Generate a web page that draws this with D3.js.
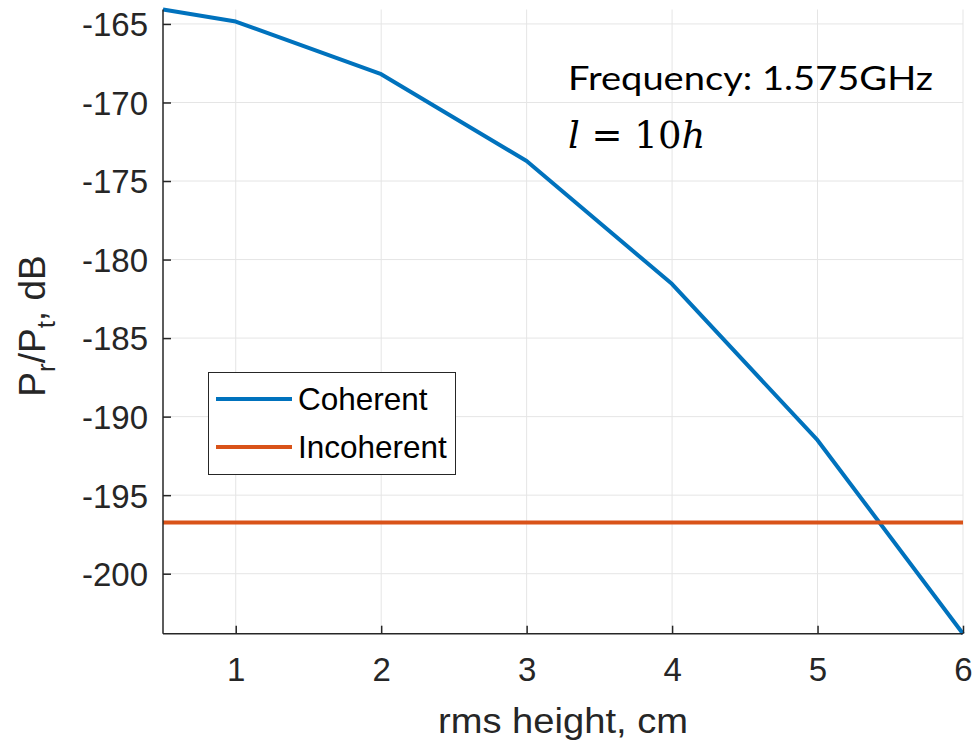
<!DOCTYPE html>
<html><head><meta charset="utf-8">
<script src="https://cdn.jsdelivr.net/npm/d3@7"></script>
<style>body{margin:0;background:#fff}svg{display:block}</style>
</head><body><svg id="c" width="980" height="740"></svg>
<script>
const rmsHeight = [0.5, 1, 2, 3, 4, 5, 6];
const coherent = [-164.08, -164.85, -168.2, -173.73, -181.56, -191.5, -203.82];
const incoherent = [-196.74, -196.74, -196.74, -196.74, -196.74, -196.74, -196.74];
const xTicks = [1, 2, 3, 4, 5, 6];
const yTicks = [-165, -170, -175, -180, -185, -190, -195, -200];
const seriesNames = ["Coherent", "Incoherent"];
const seriesColors = ["#0072BD", "#D95319"];

const svg = d3.select("#c");
const L = 163, R = 963, T = 9.5, B = 633.7;
const x = d3.scaleLinear().domain([0.5, 6]).range([L, R]);
const y = d3.scaleLinear().domain([-203.82, -164.08]).range([B, T]);
const axisCol = "#262626", gridCol = "#e5e5e5";
const font = "Liberation Sans, Arial, Helvetica, sans-serif";

// grid
svg.append("g").selectAll("line").data(xTicks).join("line")
  .attr("x1", d => x(d)).attr("x2", d => x(d)).attr("y1", T).attr("y2", B)
  .attr("stroke", gridCol).attr("stroke-width", 1);
svg.append("g").selectAll("line").data(yTicks).join("line")
  .attr("x1", L).attr("x2", R).attr("y1", d => y(d)).attr("y2", d => y(d))
  .attr("stroke", gridCol).attr("stroke-width", 1);

// series
const line = d3.line().x((d, i) => x(rmsHeight[i])).y(d => y(d));
[coherent, incoherent].forEach((s, k) => {
  svg.append("path").datum(s).attr("d", line).attr("fill", "none")
    .attr("stroke", seriesColors[k]).attr("stroke-width", 4).attr("stroke-linejoin", "round");
});

// axes
const xAxis = d3.axisBottom(x).tickValues(xTicks).tickSize(-8).tickPadding(20).tickFormat(d => String(d));
const gx = svg.append("g").attr("transform", `translate(0,${B})`).call(xAxis);
gx.select(".domain").attr("stroke", axisCol).attr("stroke-width", 1.5).attr("d", `M${L},0H${R}`);
gx.selectAll(".tick line").attr("stroke", axisCol).attr("stroke-width", 1.5);
gx.selectAll(".tick text").attr("fill", axisCol).attr("font-family", font).attr("font-size", 33)
  .attr("dy", null).attr("y", 47);

const yAxis = d3.axisLeft(y).tickValues(yTicks).tickSize(-8).tickPadding(14).tickFormat(d => String(d));
const gy = svg.append("g").attr("transform", `translate(${L},0)`).call(yAxis);
gy.select(".domain").attr("stroke", axisCol).attr("stroke-width", 1.5).attr("d", `M0,${T}V${B}`);
gy.selectAll(".tick line").attr("stroke", axisCol).attr("stroke-width", 1.5);
gy.selectAll(".tick text").attr("fill", axisCol).attr("font-family", font).attr("font-size", 33)
  .attr("dy", "0.36em").attr("x", -15);

// axis labels
svg.append("text").attr("x", (L + R) / 2).attr("y", 733).attr("text-anchor", "middle")
  .attr("font-family", font).attr("font-size", 35).attr("textLength", 250).attr("lengthAdjust", "spacingAndGlyphs")
  .attr("fill", axisCol).text("rms height, cm");

const yl = svg.append("text").attr("transform", `translate(45,326) rotate(-90)`)
  .attr("text-anchor", "middle").attr("font-family", font).attr("font-size", 37).attr("fill", axisCol);
yl.append("tspan").text("P");
yl.append("tspan").attr("dy", 10).attr("font-size", 26).text("r");
yl.append("tspan").attr("dy", -10).text("/P");
yl.append("tspan").attr("dy", 10).attr("font-size", 26).text("t");
yl.append("tspan").attr("dy", -10).text(", dB");

// annotations
svg.append("text").attr("x", 568).attr("y", 90).attr("font-family", "Lato, 'Open Sans', sans-serif")
  .attr("font-size", 33).attr("textLength", 365).attr("lengthAdjust", "spacingAndGlyphs")
  .attr("fill", "#000").text("Frequency: 1.575GHz");
const ann = svg.append("text").attr("x", 568).attr("y", 148)
  .attr("font-family", "'DejaVu Serif', 'Liberation Serif', serif").attr("font-size", 37).attr("fill", "#000");
ann.append("tspan").attr("font-style", "italic").text("l");
ann.append("tspan").text(" = 10");
ann.append("tspan").attr("font-style", "italic").text("h");

// legend
const lg = svg.append("g");
lg.append("rect").attr("x", 208.5).attr("y", 372.5).attr("width", 247).attr("height", 102)
  .attr("fill", "#fff").attr("stroke", axisCol).attr("stroke-width", 1);
seriesNames.forEach((n, i) => {
  const yy = 399 + i * 48;
  lg.append("line").attr("x1", 216).attr("x2", 292).attr("y1", yy).attr("y2", yy)
    .attr("stroke", seriesColors[i]).attr("stroke-width", 4);
  lg.append("text").attr("x", 298).attr("y", yy).attr("dy", "0.36em").attr("font-family", font)
    .attr("font-size", 31.5).attr("fill", "#000").text(n);
});
</script></body></html>
